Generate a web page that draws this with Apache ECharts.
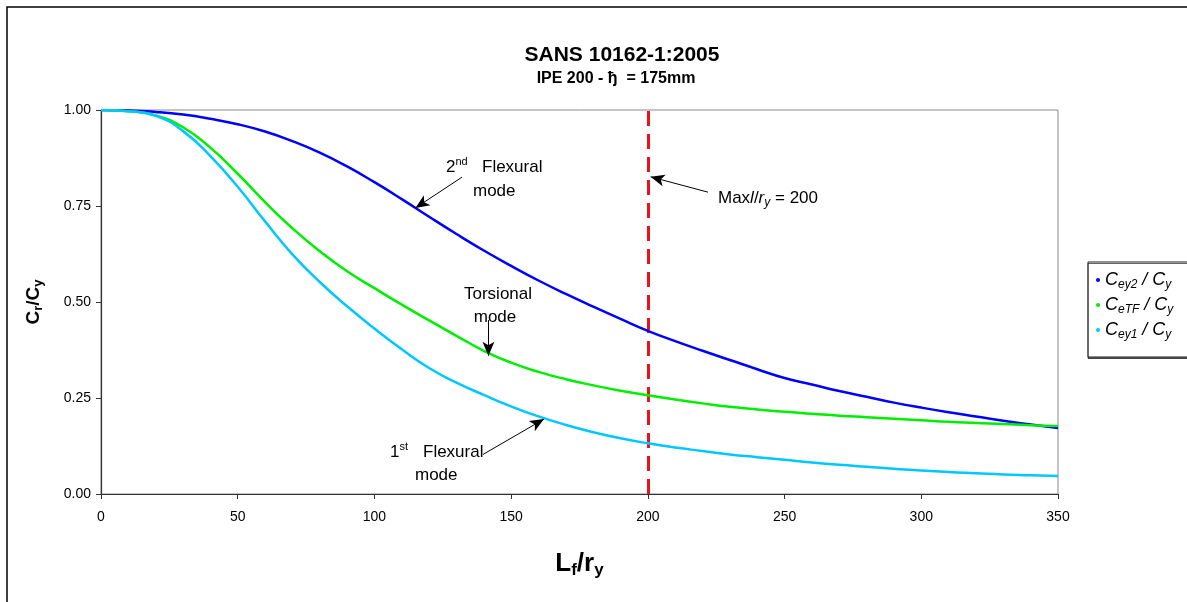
<!DOCTYPE html>
<html>
<head>
<meta charset="utf-8">
<script src="https://cdn.jsdelivr.net/npm/echarts@6/dist/echarts.min.js"></script>
<style>
  html, body { margin: 0; padding: 0; background: #fff; }
  #chartArea { width: 1187px; height: 602px; }
</style>
</head>
<body>
<div id="chartArea"></div>
<script>
// slenderness L/r
const slenderness = [0, 10, 20, 30, 40, 50, 60, 70, 80, 90, 100, 110, 120, 130, 140, 150, 160, 170,
  180, 190, 200, 210, 220, 230, 240, 250, 260, 270, 280, 290, 300, 310, 320, 330, 340, 350];
// 2nd flexural mode
const cey2 = [1.0, 0.999, 0.995, 0.988, 0.977, 0.963, 0.944, 0.919, 0.889, 0.853, 0.812, 0.768, 0.722,
  0.677, 0.634, 0.594, 0.556, 0.521, 0.488, 0.456, 0.425, 0.398, 0.373, 0.349, 0.325, 0.302, 0.285,
  0.268, 0.253, 0.238, 0.225, 0.213, 0.202, 0.191, 0.181, 0.172];
// torsional mode
const ceTF = [1.0, 0.997, 0.986, 0.955, 0.902, 0.834, 0.760, 0.692, 0.632, 0.580, 0.536, 0.493, 0.452,
  0.412, 0.373, 0.342, 0.318, 0.299, 0.283, 0.269, 0.257, 0.246, 0.236, 0.227, 0.22, 0.214, 0.209,
  0.204, 0.2, 0.196, 0.192, 0.188, 0.185, 0.182, 0.179, 0.177];
// 1st flexural mode
const cey1 = [1.0, 0.997, 0.985, 0.945, 0.88, 0.80, 0.71, 0.624, 0.552, 0.489, 0.431, 0.377, 0.328,
  0.29, 0.258, 0.228, 0.202, 0.18, 0.161, 0.145, 0.132, 0.121, 0.112, 0.103, 0.096, 0.089, 0.082,
  0.076, 0.071, 0.066, 0.061, 0.057, 0.054, 0.051, 0.049, 0.047];
const maxSlenderness = 200;
const xTicks = [0, 50, 100, 150, 200, 250, 300, 350];

const FONT = 'Liberation Sans, Arial, sans-serif';

function pairs(ys) {
  return slenderness.map(function (x, i) { return [x, ys[i]]; });
}

// arrows: [tail, tip] in data coords
const arrows = [
  [[132, 0.825], [115, 0.745]],
  [[222, 0.786], [201, 0.826]],
  [[141.7, 0.453], [141.7, 0.36]],
  [[139.7, 0.103], [162, 0.195]]
];

const legendNames = {
  'Cey2 / Cy': '{c|C}{s|ey2}{c| / C}{s|y}',
  'CeTF / Cy': '{c|C}{s|eTF}{c| / C}{s|y}',
  'Cey1 / Cy': '{c|C}{s|ey1}{c| / C}{s|y}'
};

const chartDom = document.getElementById('chartArea');
const myChart = echarts.init(chartDom);

function lineSeries(name, ys, color) {
  return {
    name: name,
    type: 'line',
    data: pairs(ys),
    smooth: true,
    showSymbol: false,
    symbol: 'circle',
    color: color,
    lineStyle: { width: 2.5, color: color },
    z: 3
  };
}

const annoText = { fontFamily: FONT, fontSize: 17, fill: '#000' };

let option = {
  animation: false,
  backgroundColor: '#fff',
  grid: { left: 101, right: 129, top: 110, bottom: 108, show: true, borderColor: '#8a8a8a', borderWidth: 1 },
  legend: {
    orient: 'vertical',
    left: 1091,
    top: 266,
    icon: 'circle',
    itemWidth: 4,
    itemHeight: 4,
    itemGap: 5,
    data: ['Cey2 / Cy', 'CeTF / Cy', 'Cey1 / Cy'],
    formatter: function (n) { return legendNames[n]; },
    textStyle: {
      rich: {
        c: { fontFamily: FONT, fontStyle: 'italic', fontSize: 18, color: '#000', lineHeight: 22, verticalAlign: 'middle' },
        s: { fontFamily: FONT, fontStyle: 'italic', fontSize: 12, color: '#000', lineHeight: 12, verticalAlign: 'bottom' }
      }
    }
  },
  xAxis: {
    type: 'value',
    min: 0,
    max: 350,
    interval: 50,
    name: '{b|L}{s|f}{b|/r}{s|y}',
    nameLocation: 'middle',
    nameGap: 55,
    nameTextStyle: {
      rich: {
        b: { fontFamily: FONT, fontWeight: 'bold', fontSize: 26, color: '#000', lineHeight: 30 },
        s: { fontFamily: FONT, fontWeight: 'bold', fontSize: 17, color: '#000', lineHeight: 17, verticalAlign: 'bottom' }
      }
    },
    axisLine: { lineStyle: { color: '#333', width: 1.2 } },
    axisTick: { length: 5, lineStyle: { color: '#333' } },
    axisLabel: {
      margin: 16, fontFamily: FONT, fontSize: 14, color: '#000',
      customValues: xTicks
    },
    splitLine: { show: false }
  },
  yAxis: {
    type: 'value',
    min: 0,
    max: 1,
    interval: 0.25,
    name: '{b|C}{s|r}{b|/C}{s|y}',
    nameLocation: 'middle',
    nameGap: 56,
    nameTextStyle: {
      rich: {
        b: { fontFamily: FONT, fontWeight: 'bold', fontSize: 19, color: '#000', lineHeight: 22 },
        s: { fontFamily: FONT, fontWeight: 'bold', fontSize: 13, color: '#000', lineHeight: 13, verticalAlign: 'bottom' }
      }
    },
    axisLine: { show: true, lineStyle: { color: '#333', width: 1.2 } },
    axisTick: { show: true, length: 5, lineStyle: { color: '#333' } },
    axisLabel: {
      margin: 10, fontFamily: FONT, fontSize: 14, color: '#000',
      formatter: function (v) { return v.toFixed(2); }
    },
    splitLine: { show: false }
  },
  series: [
    lineSeries('Cey2 / Cy', cey2, '#0000ff'),
    lineSeries('CeTF / Cy', ceTF, '#00ee00'),
    lineSeries('Cey1 / Cy', cey1, '#00c8ff'),
    {
      type: 'line',
      data: [],
      silent: true,
      markLine: {
        silent: true,
        animation: false,
        symbol: 'none',
        label: { show: false },
        lineStyle: { color: '#e8141c', width: 3, type: [15, 8] },
        data: [{ xAxis: maxSlenderness }],
        z: 2
      }
    },
    {
      type: 'line',
      data: [],
      silent: true,
      markLine: {
        silent: true,
        animation: false,
        symbol: ['none', 'arrow'],
        symbolSize: [9, 14],
        label: { show: false },
        lineStyle: { color: '#000', width: 1, type: 'solid' },
        data: arrows.map(function (a) { return [{ coord: a[0] }, { coord: a[1] }]; }),
        z: 5
      }
    }
  ],
  graphic: [
    { type: 'rect', shape: { x: 7, y: 7, width: 1200, height: 620 }, style: { fill: 'none', stroke: '#000', lineWidth: 1.5 }, silent: true },
    { type: 'rect', shape: { x: 1088, y: 262, width: 120, height: 95 }, style: { fill: '#fff', stroke: '#222', lineWidth: 1, shadowColor: 'rgba(0,0,0,0.6)', shadowOffsetY: 1.5, shadowBlur: 0 }, z: -1, silent: true },
    { type: 'text', x: 622, y: 55, style: { text: 'SANS 10162-1:2005', fontFamily: FONT, fontWeight: 'bold', fontSize: 21, fill: '#000', align: 'center', verticalAlign: 'middle' } },
    { type: 'text', x: 616, y: 79, style: { text: 'IPE 200 - \u0452  = 175mm', fontFamily: FONT, fontWeight: 'bold', fontSize: 16, fill: '#000', align: 'center', verticalAlign: 'middle' } },
    { type: 'text', x: 446, y: 167, style: { text: '{n|2}{p|nd}', align: 'left', verticalAlign: 'middle',
      rich: { n: Object.assign({ lineHeight: 22 }, annoText), p: { fontFamily: FONT, fontSize: 11, fill: '#000', lineHeight: 11, verticalAlign: 'top' } } } },
    { type: 'text', x: 482, y: 167, style: Object.assign({ text: 'Flexural', align: 'left', verticalAlign: 'middle' }, annoText) },
    { type: 'text', x: 473, y: 191, style: Object.assign({ text: 'mode', align: 'left', verticalAlign: 'middle' }, annoText) },
    { type: 'text', x: 718, y: 198, style: { text: '{n|Max}{i|l}{n|/}{i|r}{s|y}{n| = 200}', align: 'left', verticalAlign: 'middle',
      rich: {
        n: Object.assign({ lineHeight: 22 }, annoText),
        i: Object.assign({ lineHeight: 22, fontStyle: 'italic' }, annoText),
        s: { fontFamily: FONT, fontSize: 12, fontStyle: 'italic', fill: '#000', lineHeight: 14, verticalAlign: 'bottom' }
      } } },
    { type: 'text', x: 498, y: 294, style: Object.assign({ text: 'Torsional', align: 'center', verticalAlign: 'middle' }, annoText) },
    { type: 'text', x: 495, y: 317, style: Object.assign({ text: 'mode', align: 'center', verticalAlign: 'middle' }, annoText) },
    { type: 'text', x: 390, y: 452, style: { text: '{n|1}{p|st}', align: 'left', verticalAlign: 'middle',
      rich: { n: Object.assign({ lineHeight: 22 }, annoText), p: { fontFamily: FONT, fontSize: 11, fill: '#000', lineHeight: 11, verticalAlign: 'top' } } } },
    { type: 'text', x: 423, y: 452, style: Object.assign({ text: 'Flexural', align: 'left', verticalAlign: 'middle' }, annoText) },
    { type: 'text', x: 415, y: 475, style: Object.assign({ text: 'mode', align: 'left', verticalAlign: 'middle' }, annoText) }
  ]
};

option && myChart.setOption(option);
</script>
</body>
</html>
